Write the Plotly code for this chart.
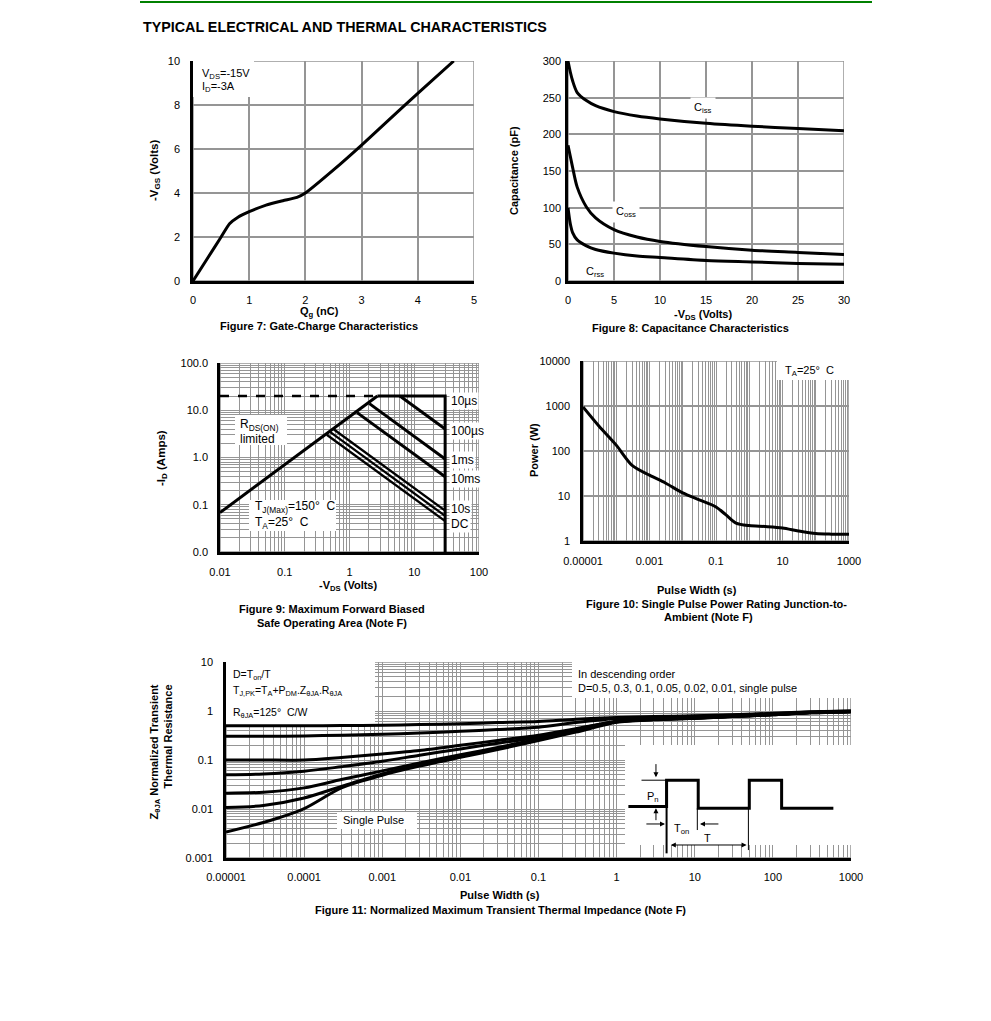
import math
import plotly.graph_objects as go

W, H = 991, 1021

# ---------------- Figure 7 : gate charge ----------------
QG_NC = [0, 0.25, 0.5, 0.65, 0.8, 1.0, 1.3, 1.6, 1.85, 2.0, 2.5, 3.0, 3.5, 4.0, 4.64]
VGS_V = [0, 1.0, 2.0, 2.6, 2.9, 3.15, 3.45, 3.65, 3.8, 4.0, 5.05, 6.18, 7.36, 8.53, 10.0]

# ---------------- Figure 8 : capacitance ----------------
VDS_CAP = [0, 0.25, 0.5, 1, 2, 3, 5, 7.5, 10, 15, 20, 25, 30]
CISS_PF = [300, 285, 273, 257, 246, 239, 231, 225, 221, 215, 211, 208, 205]
COSS_PF = [185, 170, 155, 128, 101, 86, 70, 60, 54, 47, 42, 39, 36]
CRSS_PF = [100, 78, 66, 56, 48, 43, 38, 34, 32, 28, 26, 24, 23]

# ---------------- Figure 9 : safe operating area ----------------
SOA_DASH_V = [0.01, 2.7]
SOA_DASH_I = [20, 20]
SOA_RDS_V = [0.01, 2.7]
SOA_RDS_I = [0.068, 20]
SOA_10US_V = [2.7, 30, 30]
SOA_10US_I = [20, 20, 0.01]
SOA_100US_V = [6.0, 30]
SOA_100US_I = [20, 4.0]
SOA_1MS_V = [2.03, 30]
SOA_1MS_I = [13.8, 0.93]
SOA_10MS_V = [1.31, 30]
SOA_10MS_I = [8.9, 0.39]
SOA_1S_V = [0.575, 30]
SOA_1S_I = [3.91, 0.075]
SOA_10S_V = [0.506, 30]
SOA_10S_I = [3.44, 0.058]
SOA_DC_V = [0.445, 30]
SOA_DC_I = [3.03, 0.045]
SOA_LABELS = ["10µs", "100µs", "1ms", "10ms", "10s", "DC"]
SOA_LABEL_I = [15.4, 3.6, 0.90, 0.353, 0.082, 0.040]

# ---------------- Figure 10 : single pulse power ----------------
TP_PWR = [1e-5, 3e-5, 1e-4, 3e-4, 1e-3, 3e-3, 1e-2, 3e-2, 0.1, 0.2, 0.4, 1, 3, 10, 30, 100, 300, 1000]
PWR_W = [955, 360, 135, 48, 29, 19.5, 11.7, 8.3, 5.7, 3.8, 2.5, 2.2, 2.1, 1.95, 1.67, 1.46, 1.42, 1.41]

# ---------------- Figure 11 : transient thermal impedance ----------------
TP_Z = [1e-5, 3e-5, 1e-4, 3e-4, 1e-3, 3e-3, 1e-2, 3e-2, 0.1, 0.3, 1, 3, 10, 30, 100, 300, 1000]
Z_D05 = [.50, .50, .50, .505, .51, .53, .55, .58, .61, .68, .74, .77, .80, .84, .90, .96, 1.0]
Z_D03 = [.305, .305, .31, .32, .335, .355, .385, .42, .465, .58, .70, .74, .78, .82, .88, .95, 1.0]
Z_D01 = [.10, .10, .10, .113, .133, .157, .20, .25, .32, .435, .62, .68, .72, .78, .85, .93, .98]
Z_D005 = [.050, .052, .059, .073, .094, .125, .168, .22, .29, .42, .61, .68, .72, .78, .85, .93, .98]
Z_D002 = [.021, .022, .027, .040, .060, .087, .128, .18, .27, .40, .60, .67, .72, .78, .85, .93, .98]
Z_D001 = [.0107, .0118, .0168, .029, .052, .081, .12, .17, .26, .385, .60, .67, .71, .77, .84, .92, .97]
Z_SINGLE = [.0034, .0053, .0102, .027, .049, .075, .113, .163, .25, .37, .59, .66, .71, .77, .84, .92, .97]

# inset pulse schematic (schematic units 0-100)
PULSE_U = [1.5, 18.4, 18.4, 32.4, 32.4, 55.0, 55.0, 69.3, 69.3, 92.2]
PULSE_V = [44, 44, 68, 68, 42.5, 42.5, 68, 68, 42.5, 42.5]

FONT = "Liberation Sans, Arial, sans-serif"
GRID = "#959595"
BLACK = "black"

# subplot placement in pixels: left, right, top, bottom, x range, y range, log flags
AXES = {
    "": (193, 474, 61, 281, (0, 5), (0, 10), False, False),
    "2": (568, 844, 61, 281, (0, 30), (0, 300), False, False),
    "3": (220, 479, 363, 552, (-2, 2), (-2, 2), True, True),
    "4": (583, 849, 361, 541, (-5, 3), (0, 4), True, True),
    "5": (226, 851, 662, 858, (-5, 3), (-3, 1), True, True),
}


def fx(p):
    return p / W


def fy(p):
    return 1 - p / H


def dom_x(a, b):
    return [fx(a), fx(b)]


def dom_y(top, bottom):
    return [fy(bottom), fy(top)]


def px2x(ax, p):
    L, R, T, B, xr, yr, xl, yl = AXES[ax]
    v = xr[0] + (p - L) / (R - L) * (xr[1] - xr[0])
    return 10 ** v if xl else v


def px2y(ax, p):
    L, R, T, B, xr, yr, xl, yl = AXES[ax]
    v = yr[0] + (B - p) / (B - T) * (yr[1] - yr[0])
    return 10 ** v if yl else v


def minor_vals(lo, hi):
    vals = []
    for k in range(lo, hi):
        for m in range(1, 10):
            vals.append(m * 10.0 ** k)
    vals.append(10.0 ** hi)
    return vals


def lin_axis(domain, rng, dtick, ticklen, anchor):
    return dict(domain=domain, range=rng, dtick=dtick, tick0=0, showgrid=True,
                gridcolor=GRID, gridwidth=1.7, zeroline=False, showline=True,
                linecolor=BLACK, linewidth=2.5, ticks="outside", ticklen=ticklen,
                tickcolor="rgba(0,0,0,0)", tickfont=dict(size=11, color=BLACK, family=FONT),
                anchor=anchor, fixedrange=True, automargin=False)


def log_axis(domain, lo, hi, tickvals, ticktext, ticklen, anchor, minor=True, gridwidth=1.1):
    d = dict(domain=domain, type="log", range=[lo, hi], tickmode="array",
             tickvals=tickvals, ticktext=ticktext, showgrid=True, gridcolor=GRID,
             gridwidth=gridwidth, zeroline=False, showline=True, linecolor=BLACK,
             linewidth=2.5, ticks="outside", ticklen=ticklen,
             tickcolor="rgba(0,0,0,0)", tickfont=dict(size=11, color=BLACK, family=FONT),
             anchor=anchor, fixedrange=True, automargin=False)
    if minor:
        d["minor"] = dict(tickmode="array", tickvals=minor_vals(lo, hi), showgrid=True,
                          gridcolor=GRID, gridwidth=gridwidth, ticks="")
    return d


fig = go.Figure()


def line(x, y, ax, width=3, dash="solid", shape="linear", smoothing=1.0):
    fig.add_trace(go.Scatter(
        x=x, y=y, xaxis="x" + ax, yaxis="y" + ax, mode="lines",
        line=dict(color=BLACK, width=width, dash=dash, shape=shape, smoothing=smoothing),
        showlegend=False, hoverinfo="skip"))


# Figure 7
line(QG_NC, VGS_V, "", shape="spline", smoothing=0.5)
# Figure 8
line(VDS_CAP, CISS_PF, "2", shape="spline", smoothing=0.8)
line(VDS_CAP, COSS_PF, "2", shape="spline", smoothing=0.8)
line(VDS_CAP, CRSS_PF, "2", shape="spline", smoothing=0.8)
# Figure 9
line(SOA_DASH_V, SOA_DASH_I, "3", width=2.5, dash="dash")
line(SOA_RDS_V, SOA_RDS_I, "3")
line(SOA_10US_V, SOA_10US_I, "3")
for v, i in [(SOA_100US_V, SOA_100US_I), (SOA_1MS_V, SOA_1MS_I), (SOA_10MS_V, SOA_10MS_I)]:
    line(v, i, "3")
for v, i in [(SOA_1S_V, SOA_1S_I), (SOA_10S_V, SOA_10S_I), (SOA_DC_V, SOA_DC_I)]:
    line(v, i, "3", width=2.3)
# Figure 10
line(TP_PWR, PWR_W, "4", shape="spline", smoothing=0.8)
# Figure 11
for z in [Z_D05, Z_D03, Z_D01, Z_D005, Z_D002, Z_D001, Z_SINGLE]:
    line(TP_Z, z, "5", shape="spline", smoothing=0.8)
# inset schematic
line(PULSE_U, PULSE_V, "6", width=3)
line([7.3, 18.4], [68, 68], "6", width=1)
line([18.4, 18.4], [68, 1.5], "6", width=2)
line([32.0, 32.0], [42.5, 22.7], "6", width=1)
line([54.6, 54.6], [42.5, 4.5], "6", width=1)

layout = dict(
    width=W, height=H, autosize=False, margin=dict(l=0, r=0, t=0, b=0, pad=0, autoexpand=False),
    paper_bgcolor="white", plot_bgcolor="rgba(0,0,0,0)",
    font=dict(family=FONT, size=11, color=BLACK), showlegend=False,
)

layout["xaxis"] = lin_axis(dom_x(193, 474), [0, 5], 1, 7, "y")
layout["yaxis"] = lin_axis(dom_y(61, 281), [0, 10], 2, 8, "x")
layout["xaxis2"] = lin_axis(dom_x(568, 844), [0, 30], 5, 7, "y2")
layout["yaxis2"] = lin_axis(dom_y(61, 281), [0, 300], 50, 2, "x2")
layout["xaxis3"] = log_axis(dom_x(220, 479), -2, 2, [0.01, 0.1, 1, 10, 100],
                            ["0.01", "0.1", "1", "10", "100"], 8, "y3")
layout["yaxis3"] = log_axis(dom_y(363, 552), -2, 2, [0.01, 0.1, 1, 10, 100],
                            ["0.0", "0.1", "1.0", "10.0", "100.0"], 7, "x3")
layout["xaxis4"] = log_axis(dom_x(583, 849), -5, 3, [1e-5, 1e-3, 0.1, 10, 1000],
                            ["0.00001", "0.001", "0.1", "10", "1000"], 8, "y4", gridwidth=1.3)
layout["yaxis4"] = log_axis(dom_y(361, 541), 0, 4, [1, 10, 100, 1000, 10000],
                            ["1", "10", "100", "1000", "10000"], 8, "x4", minor=False, gridwidth=1.5)
layout["xaxis5"] = log_axis(dom_x(226, 851), -5, 3,
                            [1e-5, 1e-4, 1e-3, 1e-2, 0.1, 1, 10, 100, 1000],
                            ["0.00001", "0.0001", "0.001", "0.01", "0.1", "1", "10", "100", "1000"],
                            7, "y5")
layout["yaxis5"] = log_axis(dom_y(662, 858), -3, 1, [0.001, 0.01, 0.1, 1, 10],
                            ["0.001", "0.01", "0.1", "1", "10"], 8, "x5")
layout["xaxis6"] = dict(domain=dom_x(625, 851), range=[0, 100], visible=False, anchor="y6",
                        fixedrange=True, automargin=False)
layout["yaxis6"] = dict(domain=dom_y(745, 855), range=[0, 100], visible=False, anchor="x6",
                        fixedrange=True, automargin=False)

shapes = []
# title rule
shapes.append(dict(type="line", xref="paper", yref="paper", x0=fx(140), x1=fx(872), y0=fy(2), y1=fy(2),
                   line=dict(color="#008000", width=2)))


def rect(ax, x0, y0, x1, y1, fill=None, edge=None):
    d = dict(type="rect", xref="x" + ax, yref="y" + ax,
             x0=px2x(ax, x0), x1=px2x(ax, x1), y0=px2y(ax, y1), y1=px2y(ax, y0),
             layer="between")
    d["fillcolor"] = fill if fill else "rgba(0,0,0,0)"
    d["line"] = dict(color=edge, width=1.5) if edge else dict(width=0)
    shapes.append(d)


# gray frames around each plot area
for ax, (L, R, T, B, *_rest) in AXES.items():
    rect(ax, L, T, R, B, edge=GRID)

# white label boxes covering the grid
rect("", 193, 61, 254, 97, fill="white")
rect("3", 235, 415, 287, 445, fill="white")
rect("3", 249, 500, 336, 531, fill="white")
rect("4", 777, 361, 849, 380, fill="white")
rect("5", 226, 662, 375, 725, fill="white")
rect("5", 572, 662, 851, 698, fill="white")
rect("5", 337, 812, 417, 829, fill="white")
rect("5", 625, 745, 851, 845, fill="white")
layout["shapes"] = shapes

ann = []


def text(x, y, t, size=11, xanchor="center", angle=0, yanchor="middle", align="center", bg=None):
    a = dict(xref="paper", yref="paper", x=fx(x), y=fy(y), text=t, showarrow=False,
             xanchor=xanchor, yanchor=yanchor, textangle=angle, align=align,
             font=dict(family=FONT, size=size, color=BLACK))
    if bg:
        a["bgcolor"] = bg
        a["borderpad"] = 3
    ann.append(a)


text(141, 27, "<b>TYPICAL ELECTRICAL AND THERMAL CHARACTERISTICS</b>", size=14.3, xanchor="left")

# Figure 7
text(155, 171, "<b>-V<sub>GS</sub> (Volts)</b>", size=11.5, angle=-90)
text(319, 312, "<b>Q<sub>g</sub> (nC)</b>")
text(319, 326, "<b>Figure 7: Gate-Charge Characteristics</b>")
text(200, 74, "V<sub>DS</sub>=-15V", xanchor="left")
text(200, 87, "I<sub>D</sub>=-3A", xanchor="left")

# Figure 8
text(514, 171, "<b>Capacitance (pF)</b>", angle=-90)
text(703, 315, "<b>-V<sub>DS</sub> (Volts)</b>")
text(690, 327.5, "<b>Figure 8: Capacitance Characteristics</b>")
text(703, 108, "C<sub>iss</sub>", bg="white")
text(626, 212, "C<sub>oss</sub>", bg="white")
text(595, 272, "C<sub>rss</sub>")

# Figure 9
text(162, 458, "<b>-I<sub>D</sub> (Amps)</b>", size=11.5, angle=-90)
text(348, 586, "<b>-V<sub>DS</sub> (Volts)</b>")
text(332, 609, "<b>Figure 9: Maximum Forward Biased</b>")
text(332, 623, "<b>Safe Operating Area (Note F)</b>")
text(238, 425, "R<sub>DS(ON)</sub>", size=12, xanchor="left")
text(238, 439, "limited", size=12, xanchor="left")
text(253, 507, "T<sub>J(Max)</sub>=150°  C", size=12, xanchor="left")
text(253, 523, "T<sub>A</sub>=25°  C", size=12, xanchor="left")
for lab, iv in zip(SOA_LABELS, SOA_LABEL_I):
    ann.append(dict(xref="x3", yref="y3", x=1.54, y=math.log10(iv), text=lab,
                    showarrow=False, xanchor="left", yanchor="middle", bgcolor="white", borderpad=1,
                    font=dict(family=FONT, size=12, color=BLACK)))

# Figure 10
text(534, 450, "<b>Power (W)</b>", angle=-90)
text(697, 590, "<b>Pulse Width (s)</b>")
text(716, 603.5, "<b>Figure 10: Single Pulse Power Rating Junction-to-</b>")
text(708, 616.5, "<b>Ambient (Note F)</b>")
text(783, 371, "T<sub>A</sub>=25°  C", xanchor="left")

# Figure 11
text(160, 683, "<b>Z<sub>θJA</sub> Normalized Transient<br>Thermal Resistance</b>", angle=-90,
     yanchor="top", align="right")
text(500, 895, "<b>Pulse Width (s)</b>")
text(500, 910, "<b>Figure 11: Normalized Maximum Transient Thermal Impedance (Note F)</b>")
text(231, 675, "D=T<sub>on</sub>/T", size=10.5, xanchor="left")
text(231, 691, "T<sub>J,PK</sub>=T<sub>A</sub>+P<sub>DM</sub>.Z<sub>θJA</sub>.R<sub>θJA</sub>", size=10.5, xanchor="left")
text(231, 713, "R<sub>θJA</sub>=125°  C/W", size=10.5, xanchor="left")
text(576, 674, "In descending order", size=11, xanchor="left")
text(576, 688, "D=0.5, 0.3, 0.1, 0.05, 0.02, 0.01, single pulse", size=11, xanchor="left")
text(341, 820, "Single Pulse", size=11, xanchor="left")


# inset labels and arrows
def inset_text(u, v, t):
    ann.append(dict(xref="x6", yref="y6", x=u, y=v, text=t, showarrow=False, xanchor="center",
                    yanchor="middle", font=dict(family=FONT, size=11, color=BLACK)))


def inset_arrow(u0, v0, u1, v1, side="end"):
    ann.append(dict(xref="x6", yref="y6", axref="x6", ayref="y6", x=u1, y=v1, ax=u0, ay=v0,
                    text="", showarrow=True, arrowhead=2, arrowsize=1, arrowwidth=1,
                    arrowcolor=BLACK, arrowside=side))


inset_text(12.4, 53, "P<sub>n</sub>")
inset_text(25.2, 23.4, "T<sub>on</sub>")
inset_text(36.4, 15.2, "T")
inset_arrow(13.7, 84, 13.7, 70.6)
inset_arrow(13.7, 30.3, 13.7, 42.5)
inset_arrow(8.8, 28.2, 17.7, 28.2)
inset_arrow(42.0, 28.2, 33.2, 28.2)
inset_arrow(19.6, 9.1, 53.8, 9.1, side="end+start")

layout["annotations"] = ann
fig.update_layout(**layout)

fig.write_html("out.html", config={"responsive": False, "displayModeBar": False},
               post_script="document.body.style.margin='0';")
